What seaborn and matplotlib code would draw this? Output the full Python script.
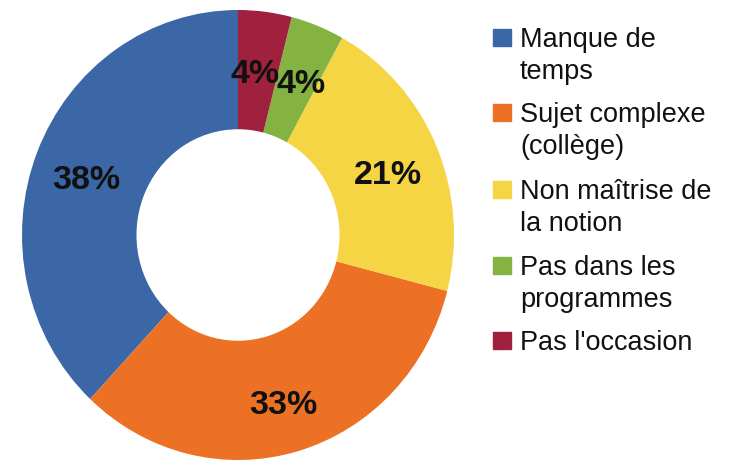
import matplotlib
matplotlib.use('Agg')
import matplotlib.pyplot as plt
from matplotlib.patches import Rectangle
import seaborn as sns

labels = ['Manque de\ntemps', 'Sujet complexe\n(collège)', 'Non maîtrise de\nla notion',
          'Pas dans les\nprogrammes', "Pas l'occasion"]
values = [38, 33, 21, 4, 4]
colors = ['#3b67a6', '#ec7125', '#f5d544', '#84b341', '#a0213d']

sns.set_theme(style='white')
plt.rcParams['font.family'] = ['Liberation Sans', 'DejaVu Sans']

W, H = 733, 464
fig = plt.figure(figsize=(W / 100, H / 100), dpi=100)

# pie area: centre (238, 236) px, slightly wider than tall like the source image
cx, cy, rx, ry = 238, 236, 216, 225
ax = fig.add_axes([(cx - rx) / W, (H - cy - ry) / H, 2 * rx / W, 2 * ry / H])
wedges, texts, autotexts = ax.pie(values, colors=colors, startangle=90, counterclock=True,
                                  autopct='%d%%', pctdistance=0.755,
                                  wedgeprops=dict(width=0.53, linewidth=0))
# the two small 4% labels touch in the source; nudge them apart a little
dx = [0, 0, 0, 0.015, -0.015]
for t, d in zip(autotexts, dx):
    t.set_fontsize(24.5)
    t.set_fontweight('bold')
    t.set_color('#111111')
    x, y = t.get_position()
    t.set_position((x + d, y - 0.03))  # digits sit a bit lower in the source
ax.set_aspect('auto')
ax.set_xlim(-1, 1)
ax.set_ylim(-1, 1)
ax.axis('off')

# legend drawn by hand so the square lines up with the first line
base = [47, 122, 199, 275, 350]
for lab, col, b in zip(labels, colors, base):
    fig.patches.append(Rectangle((493 / W, (H - b) / H), 18 / W, 17 / H,
                                 transform=fig.transFigure, color=col))
    for k, line in enumerate(lab.split('\n')):
        fig.text(520 / W, (H - b - 32 * k) / H, line, fontsize=19.5,
                 color='#111111', va='baseline', ha='left')

fig.savefig('out.png', dpi=100)
